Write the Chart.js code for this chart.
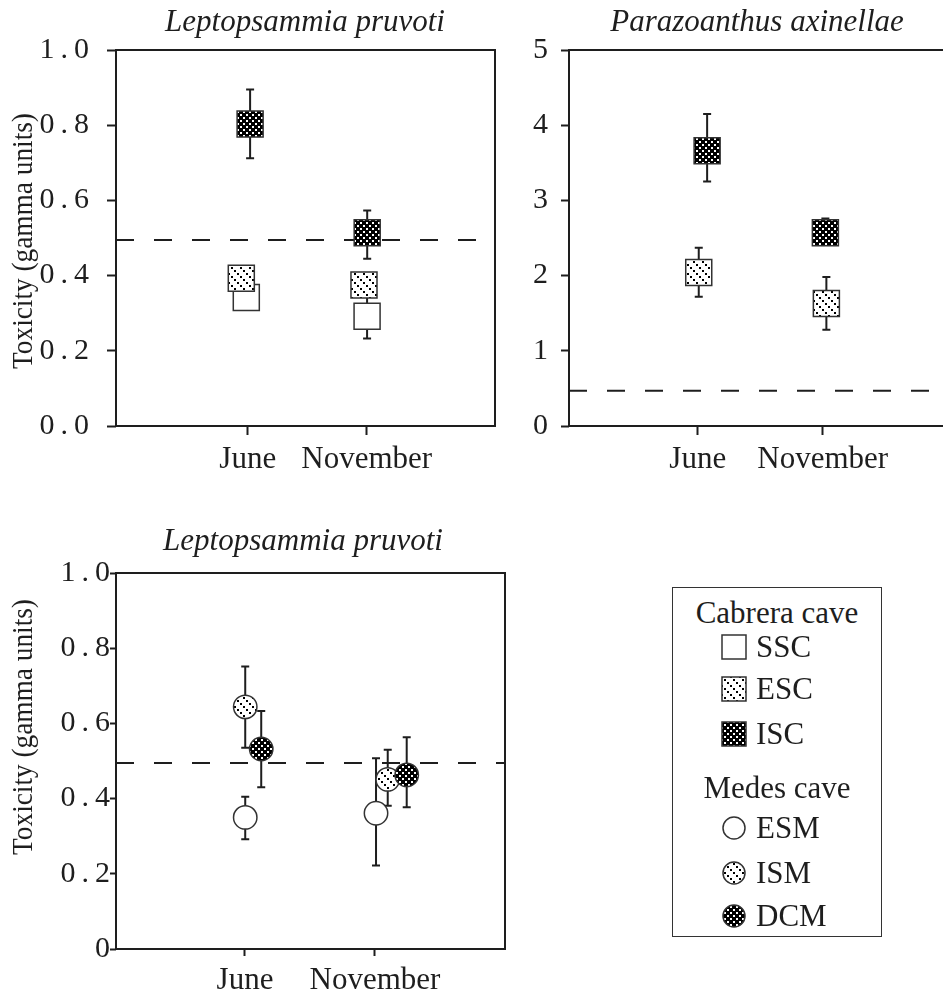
<!DOCTYPE html>
<html lang="en">
<head>
<meta charset="UTF-8">
<title>Toxicity (gamma units) - Leptopsammia pruvoti / Parazoanthus axinellae</title>
<script src="https://cdn.jsdelivr.net/npm/chart.js"></script>
<style>
  html, body { margin: 0; padding: 0; background: #fff; }
  body { width: 943px; height: 997px; overflow: hidden; position: relative;
         font-family: "Liberation Serif", "Times New Roman", serif; color: #1e1e1e; }
  canvas.panel { position: absolute; }
  #legend { position: absolute; left: 672px; top: 587px; width: 210px; height: 350px;
            border: 1.5px solid #333; box-sizing: border-box; }
  .lg-head { position: absolute; left: 0; width: 100%; text-align: center;
             font-size: 31px; line-height: 32px; white-space: nowrap; }
  .lg-row { position: absolute; left: 48px; font-size: 31px; line-height: 32px;
            display: flex; align-items: center; white-space: nowrap; }
  .lg-row canvas { margin-right: 9px; }
</style>
</head>
<body>
<canvas id="chartA" class="panel" width="520" height="486" style="left:0;top:0"></canvas>
<canvas id="chartB" class="panel" width="540" height="486" style="left:450px;top:0"></canvas>
<canvas id="chartC" class="panel" width="520" height="507" style="left:0;top:490px"></canvas>

<div id="legend">
  <div class="lg-head" style="top:9px">Cabrera cave</div>
  <div class="lg-row" style="top:43px"><canvas id="symSSC" width="26" height="26"></canvas>SSC</div>
  <div class="lg-row" style="top:85px"><canvas id="symESC" width="26" height="26"></canvas>ESC</div>
  <div class="lg-row" style="top:130px"><canvas id="symISC" width="26" height="26"></canvas>ISC</div>
  <div class="lg-head" style="top:184px">Medes cave</div>
  <div class="lg-row" style="top:224px"><canvas id="symESM" width="26" height="26"></canvas>ESM</div>
  <div class="lg-row" style="top:269px"><canvas id="symISM" width="26" height="26"></canvas>ISM</div>
  <div class="lg-row" style="top:312px"><canvas id="symDCM" width="26" height="26"></canvas>DCM</div>
</div>

<script>
// ---- data ----
const months = ['June', 'November'];

// Leptopsammia pruvoti, Cabrera cave
const lpSSC = [0.342, 0.292];
const lpSSCLow = [null, 0.233];
const lpSSCHigh = [null, 0.345];
const lpESC = [0.393, 0.375];
const lpESCLow = [null, null];
const lpESCHigh = [null, null];
const lpISC = [0.803, 0.514];
const lpISCLow = [0.712, 0.445];
const lpISCHigh = [0.895, 0.573];
const lpCabreraThreshold = 0.495;

// Parazoanthus axinellae, Cabrera cave
const paESC = [2.04, 1.63];
const paESCLow = [1.72, 1.28];
const paESCHigh = [2.37, 1.98];
const paISC = [3.66, 2.57];
const paISCLow = [3.25, 2.45];
const paISCHigh = [4.15, 2.76];
const paThreshold = 0.47;

// Leptopsammia pruvoti, Medes cave
const lpESM = [0.350, 0.361];
const lpESMLow = [0.292, 0.222];
const lpESMHigh = [0.405, 0.507];
const lpISM = [0.644, 0.451];
const lpISMLow = [0.535, 0.381];
const lpISMHigh = [0.751, 0.530];
const lpDCM = [0.532, 0.463];
const lpDCMLow = [0.430, 0.377];
const lpDCMHigh = [0.633, 0.563];
const lpMedesThreshold = 0.495;

// tick labels
const ticksLpCabrera = ['0.0', '0.2', '0.4', '0.6', '0.8', '1.0'];
const ticksPa = ['0', '1', '2', '3', '4', '5'];
const ticksLpMedes = ['0', '0.2', '0.4', '0.6', '0.8', '1.0'];

// small horizontal dodge of the symbols around each month (x units)
const dodgeA = { isc: [0.02, 0.004], esc: [-0.054, -0.023], ssc: [-0.012, 0.003] };
const dodgeB = { isc: [0.075, 0.021], esc: [0.008, 0.029] };
const dodgeC = { esm: [0.002, 0.008], ism: [0.002, 0.098], dcm: [0.125, 0.244] };

// ---- styling ----
const INK = '#1e1e1e';
const SERIF = '"Liberation Serif", "Times New Roman", serif';

// dotted diagonal hatching tiles
function hatchTile(bg, fg, step) {
  const t = document.createElement('canvas');
  t.width = t.height = step;
  const c = t.getContext('2d');
  c.fillStyle = bg;
  c.fillRect(0, 0, step, step);
  c.fillStyle = fg;
  for (let i = 0; i < step; i += 3) c.fillRect(i, i, 2, 2);
  return t;
}
const lightTile = hatchTile('#ffffff', '#000000', 9);
const darkTile = hatchTile('#000000', '#ffffff', 6);

function points(vals, dodge, lo, hi) {
  return vals.map((v, i) => ({ x: i + dodge[i], y: v, lo: lo[i], hi: hi[i] }));
}

function marker(label, data, shape, fill) {
  return {
    type: 'scatter',
    label: label,
    data: data,
    errorBars: true,
    pointStyle: shape,
    pointRadius: shape === 'rect' ? 18.4 : 11.7,
    pointHoverRadius: shape === 'rect' ? 18.4 : 11.7,
    pointBackgroundColor: fill,
    pointBorderColor: '#333',
    pointBorderWidth: 1.5
  };
}

function dashed(value, min, max) {
  return {
    type: 'line',
    label: 'threshold',
    data: [{ x: min, y: value }, { x: max, y: value }],
    borderColor: INK,
    borderWidth: 2,
    borderDash: [18, 20],
    pointRadius: 0,
    fill: false
  };
}

function xScale(min, max, tickLen, pad, height) {
  return {
    type: 'linear',
    min: min,
    max: max,
    afterBuildTicks: s => { s.ticks = months.map((m, i) => ({ value: i })); },
    afterFit: s => { s.height = height; },
    ticks: {
      callback: v => months[v],
      font: { family: SERIF, size: 31 },
      color: INK,
      padding: pad,
      maxRotation: 0,
      autoSkip: false
    },
    grid: { drawOnChartArea: false, drawTicks: true, tickLength: tickLen, tickColor: INK, tickWidth: 2 },
    border: { display: false }
  };
}

function yScale(min, max, step, labels, tickLen, pad, width) {
  return {
    type: 'linear',
    min: min,
    max: max,
    afterFit: s => { s.width = width; },
    ticks: {
      stepSize: step,
      callback: (v, i) => labels[i],
      font: { family: SERIF, size: 30 },
      color: INK,
      padding: pad,
      autoSkip: false,
      z: 1
    },
    grid: { drawOnChartArea: false, drawTicks: true, tickLength: tickLen, tickColor: INK, tickWidth: 2 },
    border: { display: false }
  };
}

// error bars, frame, titles
const panelPlugin = {
  id: 'panel',
  beforeDraw(chart) {
    chart.ctx.letterSpacing = '0px';
  },
  beforeDatasetsDraw(chart) {
    const ctx = chart.ctx;
    const yS = chart.scales.y;
    ctx.save();
    ctx.strokeStyle = INK;
    ctx.lineWidth = 2;
    chart.data.datasets.forEach((ds, di) => {
      if (!ds.errorBars) return;
      const meta = chart.getDatasetMeta(di);
      meta.data.forEach((pt, i) => {
        const d = ds.data[i];
        if (d.lo == null || d.hi == null) return;
        const x = pt.x;
        const y1 = yS.getPixelForValue(d.lo);
        const y2 = yS.getPixelForValue(d.hi);
        ctx.beginPath();
        ctx.moveTo(x, y1); ctx.lineTo(x, y2);
        ctx.moveTo(x - 4, y1); ctx.lineTo(x + 4, y1);
        ctx.moveTo(x - 4, y2); ctx.lineTo(x + 4, y2);
        ctx.stroke();
      });
    });
    ctx.restore();
  },
  afterDatasetsDraw(chart, args, opts) {
    // y tick labels are drawn after the datasets (ticks.z = 1)
    chart.ctx.letterSpacing = opts.tickSpacing || '0px';
  },
  afterDraw(chart, args, opts) {
    const ctx = chart.ctx;
    const a = chart.chartArea;
    ctx.letterSpacing = '0px';
    ctx.save();
    ctx.strokeStyle = INK;
    ctx.lineWidth = 2;
    ctx.strokeRect(a.left, a.top, a.right - a.left, a.bottom - a.top);

    ctx.fillStyle = INK;
    ctx.textAlign = 'center';
    ctx.textBaseline = 'alphabetic';
    ctx.font = 'italic 31px ' + SERIF;
    ctx.fillText(opts.title, opts.titleX, opts.titleY);

    if (opts.yTitle) {
      ctx.translate(opts.yTitleX, opts.yTitleY);
      ctx.rotate(-Math.PI / 2);
      ctx.scale(0.91, 1);
      ctx.font = '30px ' + SERIF;
      ctx.fillText(opts.yTitle, 0, 0);
    }
    ctx.restore();
  }
};

function baseOptions(padding, xs, ys, panel) {
  return {
    responsive: false,
    maintainAspectRatio: false,
    animation: false,
    devicePixelRatio: 1,
    events: [],
    layout: { padding: padding },
    scales: { x: xs, y: ys },
    plugins: { legend: { display: false }, tooltip: { enabled: false }, panel: panel }
  };
}

// ---- panel A: Leptopsammia pruvoti, Cabrera ----
const ctxA = document.getElementById('chartA').getContext('2d');
const lightA = ctxA.createPattern(lightTile, 'repeat');
const darkA = ctxA.createPattern(darkTile, 'repeat');
const xMinA = -1.107, xMaxA = 2.078;
new Chart(ctxA, {
  type: 'scatter',
  data: {
    datasets: [
      marker('ISC', points(lpISC, dodgeA.isc, lpISCLow, lpISCHigh), 'rect', darkA),
      marker('ESC', points(lpESC, dodgeA.esc, lpESCLow, lpESCHigh), 'rect', lightA),
      marker('SSC', points(lpSSC, dodgeA.ssc, lpSSCLow, lpSSCHigh), 'rect', '#ffffff'),
      dashed(lpCabreraThreshold, xMinA, xMaxA)
    ]
  },
  options: baseOptions(
    { top: 50, left: 0, right: 25, bottom: 0 },
    xScale(xMinA, xMaxA, 9, 6, 60),
    yScale(0, 1, 0.2, ticksLpCabrera, 9, 12, 116),
    { title: 'Leptopsammia pruvoti', titleX: 305, titleY: 31,
      yTitle: 'Toxicity (gamma units)', yTitleX: 32, yTitleY: 241, tickSpacing: '6px' }
  ),
  plugins: [panelPlugin]
});

// ---- panel B: Parazoanthus axinellae, Cabrera ----
const ctxB = document.getElementById('chartB').getContext('2d');
const lightB = ctxB.createPattern(lightTile, 'repeat');
const darkB = ctxB.createPattern(darkTile, 'repeat');
const xMinB = -1.03, xMaxB = 2.138;
new Chart(ctxB, {
  type: 'scatter',
  data: {
    datasets: [
      marker('ISC', points(paISC, dodgeB.isc, paISCLow, paISCHigh), 'rect', darkB),
      marker('ESC', points(paESC, dodgeB.esc, paESCLow, paESCHigh), 'rect', lightB),
      dashed(paThreshold, xMinB, xMaxB)
    ]
  },
  options: baseOptions(
    { top: 50, left: 0, right: 25, bottom: 0 },
    xScale(xMinB, xMaxB, 9, 6, 60),
    yScale(0, 5, 1, ticksPa, 8, 13, 119),
    { title: 'Parazoanthus axinellae', titleX: 307, titleY: 31, tickSpacing: '0px' }
  ),
  plugins: [panelPlugin]
});

// ---- panel C: Leptopsammia pruvoti, Medes ----
const ctxC = document.getElementById('chartC').getContext('2d');
const lightC = ctxC.createPattern(lightTile, 'repeat');
const darkC = ctxC.createPattern(darkTile, 'repeat');
const xMinC = -0.992, xMaxC = 2.0;
new Chart(ctxC, {
  type: 'scatter',
  data: {
    datasets: [
      marker('DCM', points(lpDCM, dodgeC.dcm, lpDCMLow, lpDCMHigh), 'circle', darkC),
      marker('ISM', points(lpISM, dodgeC.ism, lpISMLow, lpISMHigh), 'circle', lightC),
      marker('ESM', points(lpESM, dodgeC.esm, lpESMLow, lpESMHigh), 'circle', '#ffffff'),
      dashed(lpMedesThreshold, xMinC, xMaxC)
    ]
  },
  options: baseOptions(
    { top: 83, left: 0, right: 15, bottom: 0 },
    xScale(xMinC, xMaxC, 7, 6, 48),
    yScale(0, 1, 0.2, ticksLpMedes, 6, -6, 116),
    { title: 'Leptopsammia pruvoti', titleX: 303, titleY: 60,
      yTitle: 'Toxicity (gamma units)', yTitleX: 32, yTitleY: 237, tickSpacing: '6px' }
  ),
  plugins: [panelPlugin]
});

// ---- legend symbols ----
function drawSymbol(id, shape, fill) {
  const c = document.getElementById(id).getContext('2d');
  c.fillStyle = typeof fill === 'string' ? fill : c.createPattern(fill, 'repeat');
  c.strokeStyle = '#333';
  c.lineWidth = 1.5;
  c.beginPath();
  if (shape === 'rect') c.rect(1, 1, 24, 24);
  else c.arc(13, 13, 11, 0, Math.PI * 2);
  c.fill();
  c.stroke();
}
drawSymbol('symSSC', 'rect', '#ffffff');
drawSymbol('symESC', 'rect', lightTile);
drawSymbol('symISC', 'rect', darkTile);
drawSymbol('symESM', 'circle', '#ffffff');
drawSymbol('symISM', 'circle', lightTile);
drawSymbol('symDCM', 'circle', darkTile);
</script>
</body>
</html>
